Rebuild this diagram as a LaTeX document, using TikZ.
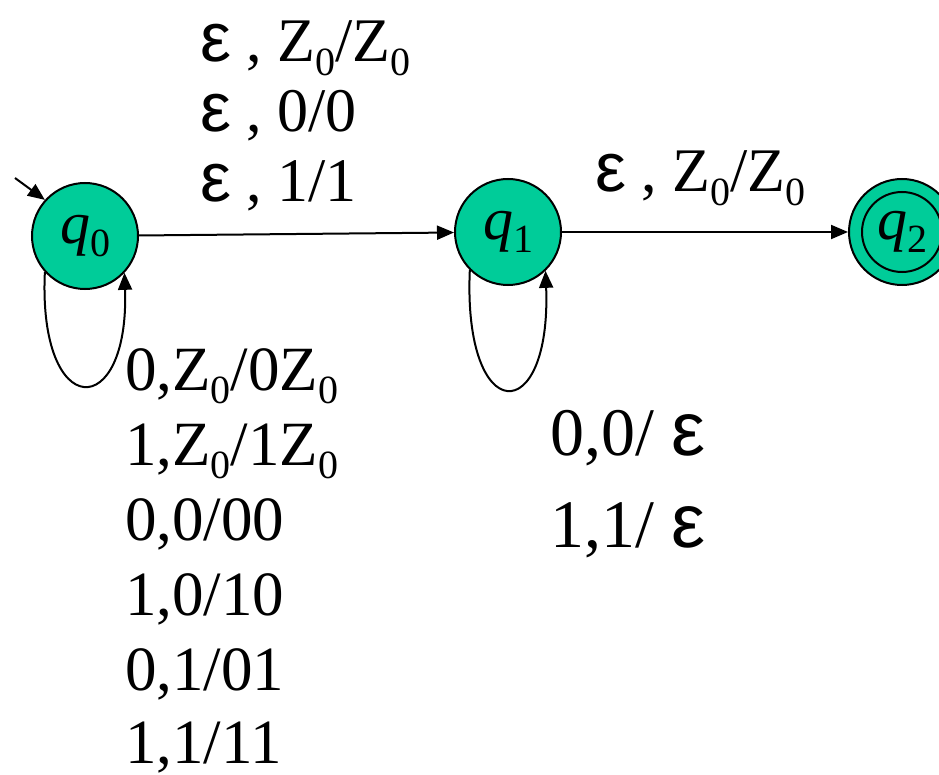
\documentclass[tikz,border=0pt]{standalone}
\usepackage{fontspec}
\setmainfont{Liberation Serif}
\newfontfamily\epsfont[Scale=1.12]{Liberation Sans}
\usetikzlibrary{arrows.meta}
\definecolor{stfill}{RGB}{0,204,153}
\newcommand{\myeps}{{\epsfont ε}}
\newcommand{\lowsub}[1]{\raisebox{-0.22em}{\fontsize{40}{40}\selectfont #1}}
\begin{document}
\begin{tikzpicture}[x=1pt,y=-1pt,
  state/.style={circle, draw, line width=2pt, fill=stfill, minimum size=106pt, inner sep=0pt,
    font=\fontsize{60}{60}\selectfont},
  lbl/.style={anchor=base west, inner sep=0pt, font=\fontsize{62}{70}\selectfont},
  lblb/.style={anchor=base west, inner sep=0pt, font=\fontsize{63}{70}\selectfont},
  arr/.style={line width=2pt, -{Triangle[length=17pt,width=14pt]}}]
\useasboundingbox (0,0) rectangle (939,775);
\node[state] (q0) at (85,236) {\textit{q}\lowsub{0}};
\node[state] (q1) at (508,232) {\textit{q}\lowsub{1}};
\node[state] (q2) at (902,232) {};
\draw[line width=2pt] (q2.center) circle[radius=40pt];
\node[font=\fontsize{60}{60}\selectfont, inner sep=0pt] (q2l) at (q2.center) {\textit{q}\lowsub{2}};
\coordinate (init) at (15,178);
\draw[arr] (init) -- (q0.138);
\draw[arr] (q0) -- (q1);
\draw[arr] (q1) -- (q2);
\draw[arr] (q0.222) .. controls +(-7,150) and +(5,150) .. (q0.317);
\draw[arr] (q1.225) .. controls +(-7,158) and +(6,158) .. (q1.314);
\node[lbl] (a1) at (200,62) {\myeps{} , Z\lowsub{0}/Z\lowsub{0}};
\node[lbl] (a2) at (200,132) {\myeps{} , 0/0};
\node[lbl] (a3) at (200,202) {\myeps{} , 1/1};
\node[lbl] (b1) at (595,192) {\myeps{} , Z\lowsub{0}/Z\lowsub{0}};
\node[lblb] (c1) at (125,390) {0,Z\lowsub{0}/0Z\lowsub{0}};
\node[lblb] (c2) at (125,465) {1,Z\lowsub{0}/1Z\lowsub{0}};
\node[lblb] (c3) at (125,540) {0,0/00};
\node[lblb] (c4) at (125,615) {1,0/10};
\node[lblb] (c5) at (125,690) {0,1/01};
\node[lblb] (c6) at (125,763) {1,1/11};
\node[lblb, font=\fontsize{68}{70}\selectfont] (d1) at (550,455) {0,0/ \myeps};
\node[lblb, font=\fontsize{68}{70}\selectfont] (d2) at (550,547) {1,1/ \myeps};
\end{tikzpicture}
\end{document}
